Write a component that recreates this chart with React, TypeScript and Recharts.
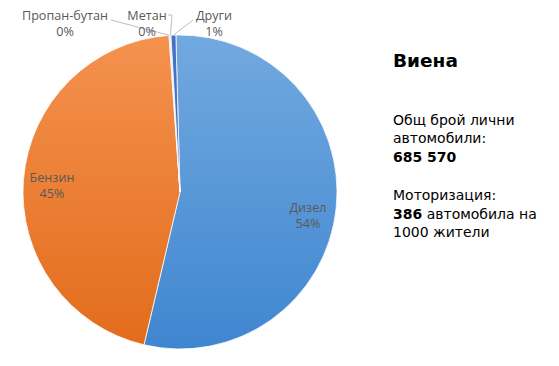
import { Cell, Pie, PieChart } from "recharts";

const categories = ["Дизел", "Бензин", "Пропан-бутан", "Метан", "Други"];
const shares = [54.1, 45.2, 0.1, 0.1, 0.5];

const cityName = "Виена";
const totalCarsLabel = ["Общ брой лични", "автомобили:"];
const totalCars = "685 570";
const motorisationLabel = "Моторизация:";
const motorisationValue = "386";
const motorisationUnit = ["автомобила на", "1000 жители"];

const data = categories.map((name, i) => ({ name, value: shares[i] }));

const fills = ["url(#gradDiesel)", "url(#gradPetrol)", "#a5a5a5", "#bfbfbf", "#4472c4"];

// label anchors relative to the pie centre (Excel places these by hand)
const labelLayout = [
  { dx: 128, dy: 23, line: null },
  { dx: -128, dy: -7, line: null },
  { dx: -115, dy: -169, line: [[-69, -172]] },
  { dx: -33, dy: -169, line: [[-12, -177], [-8, -177]] },
  { dx: 34, dy: -169, line: [[13, -172]] },
];

const RADIAN = Math.PI / 180;
const LABEL_COLOR = "#595959";

function renderLabel(props: any) {
  const { cx, cy, midAngle, outerRadius, percent, index, name } = props;
  const layout = labelLayout[index];
  const tx = cx + layout.dx;
  const ty = cy + layout.dy;
  const pct = `${Math.round(percent * 100)}%`;
  let leader = null;
  if (layout.line) {
    const ex = cx + outerRadius * Math.cos(-midAngle * RADIAN);
    const ey = cy + outerRadius * Math.sin(-midAngle * RADIAN);
    const pts = layout.line.map(([x, y]) => `${cx + x},${cy + y}`).concat(`${ex},${ey}`);
    leader = <polyline points={pts.join(" ")} fill="none" stroke="#bfbfbf" strokeWidth={1} />;
  }
  return (
    <g key={`lbl-${index}`}>
      {leader}
      <text x={tx} y={ty - 8} textAnchor="middle" dominantBaseline="central" fill={LABEL_COLOR} fontSize={12.6} fontFamily="'Open Sans', sans-serif">
        {name}
      </text>
      <text x={tx} y={ty + 8} textAnchor="middle" dominantBaseline="central" fill={LABEL_COLOR} fontSize={12.6} fontFamily="'Open Sans', sans-serif">
        {pct}
      </text>
    </g>
  );
}

export default function App() {
  return (
    <div style={{ position: "absolute", left: 0, top: 0, width: 559, height: 366, background: "#fff" }}>
      <PieChart width={559} height={366} margin={{ top: 0, right: 0, bottom: 0, left: 0 }}>
        <defs>
          <linearGradient id="gradDiesel" x1="0" y1="0" x2="0" y2="1">
            <stop offset="0%" stopColor="#72a9df" />
            <stop offset="100%" stopColor="#3f86d0" />
          </linearGradient>
          <linearGradient id="gradPetrol" x1="0" y1="0" x2="0" y2="1">
            <stop offset="0%" stopColor="#f4924e" />
            <stop offset="100%" stopColor="#e36c1c" />
          </linearGradient>
        </defs>
        <Pie
          data={data}
          dataKey="value"
          nameKey="name"
          cx={180}
          cy={192}
          outerRadius={157}
          startAngle={91.5}
          endAngle={-268.5}
          stroke="#ffffff"
          strokeWidth={0.75}
          label={renderLabel}
          labelLine={false}
          isAnimationActive={false}
        >
          {data.map((d, i) => (
            <Cell key={d.name} fill={fills[i]} />
          ))}
        </Pie>
      </PieChart>
      <div
        style={{
          position: "absolute",
          left: 393,
          top: 52,
          fontFamily: "'DejaVu Sans', sans-serif",
          color: "#000",
          fontSize: 14,
          lineHeight: "18.5px",
        }}
      >
        <div style={{ fontWeight: "bold", fontSize: 18.5, marginBottom: 40 }}>{cityName}</div>
        <div>{totalCarsLabel[0]}</div>
        <div>{totalCarsLabel[1]}</div>
        <div style={{ fontWeight: "bold" }}>{totalCars}</div>
        <div style={{ marginTop: 20 }}>{motorisationLabel}</div>
        <div>
          <b>{motorisationValue}</b> {motorisationUnit[0]}
        </div>
        <div>{motorisationUnit[1]}</div>
      </div>
    </div>
  );
}
